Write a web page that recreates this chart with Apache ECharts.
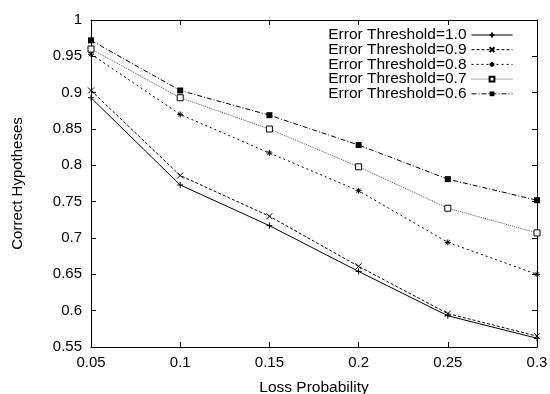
<!DOCTYPE html>
<html><head><meta charset="utf-8">
<script src="https://cdn.jsdelivr.net/npm/echarts@6/dist/echarts.min.js"></script>
<style>html,body{margin:0;padding:0;background:#fff}#c{width:550px;height:394px}</style>
</head><body><div id="c"></div>
<script>
const lossProb = [0.05, 0.1, 0.15, 0.2, 0.25, 0.3];
const names = ['Error Threshold=1.0','Error Threshold=0.9','Error Threshold=0.8','Error Threshold=0.7','Error Threshold=0.6'];
const t10 = [0.893, 0.773, 0.717, 0.654, 0.593, 0.562];
const t09 = [0.903, 0.786, 0.730, 0.661, 0.596, 0.565];
const t08 = [0.953, 0.870, 0.817, 0.765, 0.694, 0.650];
const t07 = [0.960, 0.893, 0.850, 0.798, 0.741, 0.707];
const t06 = [0.972, 0.903, 0.869, 0.828, 0.781, 0.752];

const FONT = 'Liberation Sans';
const plusPath = 'path://M0,5L10,5M5,0L5,10';
const xPath = 'path://M1,1L9,9M9,1L1,9';
const starPath = 'path://M0,5L10,5M5,0L5,10M1.5,1.5L8.5,8.5M8.5,1.5L1.5,8.5';

function mk(name, vals, symbol, size, itemStyle, lineStyle) {
  return {
    name, type: 'line', data: lossProb.map((x, i) => [x, vals[i]]),
    symbol, symbolSize: size, showSymbol: true,
    itemStyle, lineStyle: Object.assign({color: '#000', width: 1}, lineStyle),
    emphasis: {disabled: true}, animation: false
  };
}
const strokeOnly = {color: 'rgba(0,0,0,0)', borderColor: '#000', borderWidth: 1};

const chart = echarts.init(document.getElementById('c'));
chart.setOption({
  backgroundColor: '#fff',
  animation: false,
  grid: {left: 91, right: 13, top: 20, bottom: 47, containLabel: false, outerBoundsMode: 'none'},
  legend: {
    orient: 'vertical', right: 32, top: 22, align: 'right',
    itemWidth: 41, itemHeight: 6, itemGap: -1.3,
    lineStyle: {width: 1},
    textStyle: {fontFamily: FONT, fontSize: 15.5, color: '#000', lineHeight: 14},
    data: names
  },
  xAxis: [{
    type: 'value', min: 0.05, max: 0.3, interval: 0.05,
    name: 'Loss Probability', nameLocation: 'middle', nameGap: 33,
    nameTextStyle: {fontFamily: FONT, fontSize: 15.5, color: '#000'},
    axisLine: {show: true, lineStyle: {color: '#000', width: 1}},
    axisTick: {show: true, inside: true, length: 5, lineStyle: {color: '#000'}},
    axisLabel: {fontFamily: FONT, fontSize: 15, color: '#000', margin: 8},
    splitLine: {show: false}
  }, {
    type: 'value', position: 'top', min: 0.05, max: 0.3, interval: 0.05,
    axisLine: {show: true, lineStyle: {color: '#000', width: 1}},
    axisTick: {show: true, inside: true, length: 5, lineStyle: {color: '#000'}},
    axisLabel: {show: false}, splitLine: {show: false}
  }],
  yAxis: [{
    type: 'value', min: 0.55, max: 1, interval: 0.05,
    name: 'Correct Hypotheses', nameLocation: 'middle', nameGap: 66, nameRotate: 90,
    nameTextStyle: {fontFamily: FONT, fontSize: 15, color: '#000'},
    axisLine: {show: true, lineStyle: {color: '#000', width: 1}},
    axisTick: {show: true, inside: true, length: 5, lineStyle: {color: '#000'}},
    axisLabel: {fontFamily: FONT, fontSize: 15, color: '#000', margin: 9,
      formatter: v => String(+v.toFixed(2))},
    splitLine: {show: false}
  }, {
    type: 'value', position: 'right', min: 0.55, max: 1, interval: 0.05,
    axisLine: {show: true, lineStyle: {color: '#000', width: 1}},
    axisTick: {show: true, inside: true, length: 5, lineStyle: {color: '#000'}},
    axisLabel: {show: false}, splitLine: {show: false}
  }],
  series: [
    mk(names[0], t10, plusPath, 6, strokeOnly, {type: 'solid'}),
    mk(names[1], t09, xPath, 6, strokeOnly, {type: [3, 2]}),
    mk(names[2], t08, starPath, 6, strokeOnly, {type: [2, 3]}),
    mk(names[3], t07, 'rect', 6, {color: '#fff', borderColor: '#000', borderWidth: 1}, {type: [1, 1], color: '#555'}),
    mk(names[4], t06, 'rect', 6, {color: '#000'}, {type: [5, 2, 1, 2]})
  ]
});
</script></body></html>
